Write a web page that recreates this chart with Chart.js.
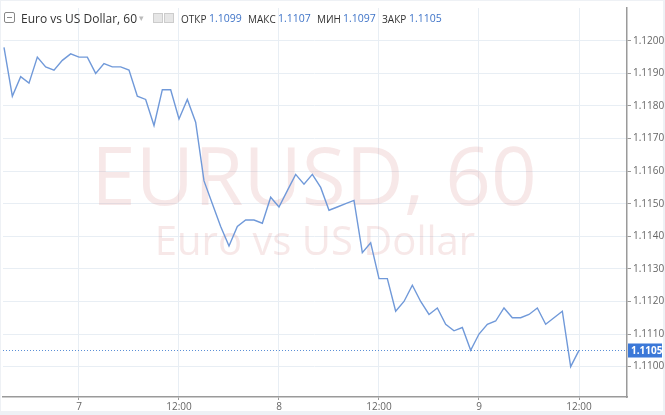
<!DOCTYPE html>
<html>
<head>
<meta charset="utf-8">
<script src="https://cdn.jsdelivr.net/npm/chart.js@4.4.0/dist/chart.umd.min.js"></script>
<style>
    body { margin: 0; background: #eef1f5; }
    #wrap { position: relative; width: 665px; height: 415px; }
    #hdr span { position: absolute; top: 11px; white-space: nowrap; font-family: 'Open Sans', sans-serif; }
    .lbl { font-size: 10px; color: #333; }
    .val { font-size: 10.5px; color: #3f74c8; }
</style>
</head>
<body>
<div id="wrap">
    <canvas id="chart" width="665" height="415"></canvas>
    <div id="hdr">
        <span style="left:4px;top:12px;width:9px;height:9px;border:1px solid #888;border-radius:2px;"></span>
        <span style="left:7px;top:17px;width:5px;height:1px;background:#888;"></span>
        <span style="left:21px;top:10px;font-size:12px;color:#333;">Euro vs US Dollar, 60</span>
        <span style="left:139px;top:11px;font-size:9px;color:#bbb;">▾</span>
        <span style="left:153px;top:13px;width:8px;height:8px;border:1px solid #ccc;background:#e6e6e6;"></span>
        <span style="left:164px;top:13px;width:8px;height:8px;border:1px solid #ccc;background:#e6e6e6;"></span>
        <span class="lbl" style="left:181px;top:12px;">ОТКР</span>
        <span class="val" style="left:209px;">1.1099</span>
        <span class="lbl" style="left:248px;top:12px;">МАКС</span>
        <span class="val" style="left:278px;">1.1107</span>
        <span class="lbl" style="left:317px;top:12px;">МИН</span>
        <span class="val" style="left:343px;">1.1097</span>
        <span class="lbl" style="left:382px;top:12px;">ЗАКР</span>
        <span class="val" style="left:409px;">1.1105</span>
    </div>
</div>
<script>
// часовые закрытия EURUSD, первая точка — 6-е число 15:00
const startHour = -9;
const closes = [
    1.1198, 1.1183, 1.1189, 1.1187, 1.1195, 1.1192, 1.1191, 1.1194, 1.1196, 1.1195,
    1.1195, 1.1190, 1.1193, 1.1192, 1.1192, 1.1191, 1.1183, 1.1182, 1.1174, 1.1185,
    1.1185, 1.1176, 1.1182, 1.1175, 1.1157, 1.1150, 1.1143, 1.1137, 1.1143, 1.1145,
    1.1145, 1.1144, 1.1152, 1.1149, 1.1154, 1.1159, 1.1156, 1.1159, 1.1155, 1.1148,
    1.1149, 1.1150, 1.1151, 1.1135, 1.1138, 1.1127, 1.1127, 1.1117, 1.1120, 1.1125,
    1.1120, 1.1116, 1.1118, 1.1113, 1.1111, 1.1112, 1.1105, 1.1110, 1.1113, 1.1114,
    1.1118, 1.1115, 1.1115, 1.1116, 1.1118, 1.1113, 1.1115, 1.1117, 1.1100, 1.1105
];
const xTickHours = [0, 12, 24, 36, 48, 60];
const xTickLabels = ['7', '12:00', '8', '12:00', '9', '12:00'];
const yTicks = [1.1100, 1.1110, 1.1120, 1.1130, 1.1140, 1.1150, 1.1160, 1.1170, 1.1180, 1.1190, 1.1200];
const lastPrice = 1.1105;

const points = closes.map((v, i) => ({ x: startHour + i, y: v }));

const gridColor = '#e8eef4';
const axisColor = '#9a9a9a';
const textColor = '#666666';

// фон и водяной знак
const backgroundPlugin = {
    id: 'background',
    beforeDraw(chart) {
        const ctx = chart.ctx;
        ctx.save();
        ctx.fillStyle = '#eef1f5';
        ctx.fillRect(0, 0, chart.width, chart.height);
        ctx.fillStyle = '#ffffff';
        ctx.fillRect(1, 1, 662, 410);
        ctx.restore();
    },
    beforeDatasetsDraw(chart) {
        const ctx = chart.ctx;
        const cx = (chart.chartArea.left + chart.chartArea.right) / 2;
        ctx.save();
        ctx.fillStyle = 'rgba(205, 120, 120, 0.17)';
        ctx.textAlign = 'center';
        ctx.textBaseline = 'alphabetic';
        ctx.font = "80px 'Open Sans', sans-serif";
        ctx.fillText('EURUSD, 60', cx - 1, 205);
        ctx.font = "40px 'Open Sans', sans-serif";
        ctx.fillText('Euro vs US Dollar', cx, 255);
        ctx.restore();
    }
};

// линия текущей цены и метка на оси
const priceLinePlugin = {
    id: 'priceLine',
    afterDatasetsDraw(chart) {
        const ctx = chart.ctx;
        const area = chart.chartArea;
        const y = Math.round(chart.scales.y.getPixelForValue(lastPrice)) + 0.5;
        ctx.save();
        ctx.strokeStyle = '#5b8fd6';
        ctx.lineWidth = 1;
        ctx.setLineDash([1, 2]);
        ctx.beginPath();
        ctx.moveTo(area.left, y);
        ctx.lineTo(area.right, y);
        ctx.stroke();
        ctx.setLineDash([]);
        ctx.fillStyle = '#3b78d8';
        ctx.fillRect(area.right + 1, y - 7, 34, 14);
        ctx.fillStyle = '#ffffff';
        ctx.font = "bold 10px 'Open Sans', sans-serif";
        ctx.textAlign = 'left';
        ctx.textBaseline = 'middle';
        ctx.fillText(lastPrice.toFixed(4), area.right + 4, y + 0.5);
        ctx.restore();
    }
};

new Chart(document.getElementById('chart'), {
    type: 'line',
    data: {
        datasets: [{
            data: points,
            borderColor: '#7099d9',
            borderWidth: 1.4,
            pointRadius: 0,
            tension: 0,
            fill: false
        }]
    },
    options: {
        responsive: false,
        animation: false,
        devicePixelRatio: 1,
        layout: { padding: { left: 3, top: 2, right: 0, bottom: 0 } },
        plugins: {
            legend: { display: false },
            tooltip: { enabled: false }
        },
        scales: {
            x: {
                type: 'linear',
                min: -9.12,
                max: 65.76,
                afterBuildTicks: scale => { scale.ticks = xTickHours.map(v => ({ value: v })); },
                afterFit: scale => { scale.height = 18; },
                ticks: {
                    autoSkip: false,
                    maxRotation: 0,
                    padding: 1,
                    color: textColor,
                    font: { size: 10, family: "'Open Sans', sans-serif" },
                    callback: (value, index) => xTickLabels[index]
                },
                grid: { color: gridColor, tickColor: axisColor, tickLength: 3 },
                border: { color: axisColor, width: 1.5 }
            },
            y: {
                type: 'linear',
                position: 'right',
                min: 1.109068,
                max: 1.121007,
                afterBuildTicks: scale => { scale.ticks = yTicks.map(v => ({ value: v })); },
                afterFit: scale => { scale.width = 38; },
                ticks: {
                    padding: 2,
                    color: textColor,
                    font: { size: 10, family: "'Open Sans', sans-serif" },
                    callback: value => value.toFixed(4)
                },
                grid: { color: gridColor, tickColor: axisColor, tickLength: 4 },
                border: { color: axisColor, width: 1.5 }
            }
        }
    },
    plugins: [backgroundPlugin, priceLinePlugin]
});
</script>
</body>
</html>
